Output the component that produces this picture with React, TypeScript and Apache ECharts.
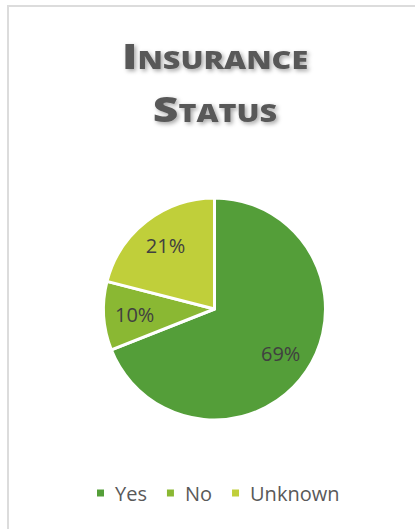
import React, { useEffect, useRef } from "react";
import * as echarts from "echarts";

const categories = ["Yes", "No", "Unknown"];
const values = [69, 10, 21];
const colors = ["#549E39", "#8AB833", "#C0CF3A"];

export default function App() {
  const ref = useRef<HTMLDivElement>(null);
  useEffect(() => {
    if (!ref.current) return;
    const chart = echarts.init(ref.current, null, { renderer: "svg" });
    const data = categories.map((name, i) => ({
      name,
      value: values[i],
      itemStyle: { color: colors[i] },
    }));
    const shadow = {
      textShadowColor: "rgba(0,0,0,0.35)",
      textShadowBlur: 4,
      textShadowOffsetX: 2,
      textShadowOffsetY: 2,
    };
    chart.setOption({
      animation: false,
      graphic: [
        {
          type: "text",
          x: 215,
          y: 29,
          scaleX: 1.27,
          silent: true,
          style: {
            text: "{b|I}{s|NSURANCE}\n{b|S}{s|TATUS}",
            align: "center",
            verticalAlign: "top",
            fill: "#595959",
            fontFamily: "Open Sans",
            fontWeight: 800,
            ...shadow,
            rich: {
              b: {
                fontSize: 35,
                fontWeight: 800,
                fontFamily: "Open Sans",
                fill: "#595959",
                color: "#595959",
                lineHeight: 53,
                ...shadow,
              },
              s: {
                fontSize: 24,
                fontWeight: 800,
                fontFamily: "Open Sans",
                fill: "#595959",
                color: "#595959",
                lineHeight: 32,
                padding: [9, 0, 0, 0],
                ...shadow,
              },
            },
          },
        },
      ],
      legend: {
        data: categories,
        left: 90,
        top: 478,
        icon: "rect",
        itemWidth: 9,
        itemHeight: 9,
        itemGap: 18,
        textStyle: {
          fontFamily: "Open Sans",
          fontSize: 20,
          color: "#595959",
          padding: [0, 0, 0, 5],
        },
      },
      series: [
        {
          type: "pie",
          center: [214.5, 309],
          radius: [0, 111],
          startAngle: 90,
          clockwise: true,
          label: { show: false },
          labelLine: { show: false },
          itemStyle: { borderColor: "#ffffff", borderWidth: 3 },
          emphasis: { disabled: true },
          data,
        },
        {
          type: "pie",
          center: [214.5, 309],
          radius: [43, 111],
          startAngle: 90,
          clockwise: true,
          silent: true,
          itemStyle: { color: "transparent", borderWidth: 0 },
          label: {
            show: true,
            position: "inside",
            formatter: "{c}%",
            fontFamily: "Open Sans",
            fontSize: 20,
            color: "#404040",
          },
          labelLine: { show: false },
          emphasis: { disabled: true },
          data: categories.map((name, i) => ({ name, value: values[i] })),
        },
      ],
    });
    return () => chart.dispose();
  }, []);
  return (
    <>
      <div
        style={{
          position: "absolute",
          left: 7,
          top: 5,
          width: 420,
          height: 540,
          borderTop: "2px solid #dcdcdc",
          borderLeft: "2px solid #dcdcdc",
          boxSizing: "border-box",
        }}
      />
      <div
        ref={ref}
        style={{ position: "absolute", left: 0, top: 0, width: 415, height: 529 }}
      />
    </>
  );
}
